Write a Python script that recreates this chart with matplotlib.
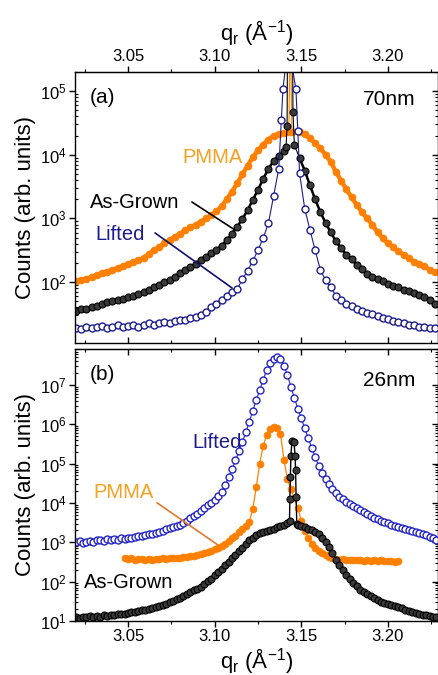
import numpy as np
import matplotlib
matplotlib.use("Agg")
import matplotlib.pyplot as plt
from matplotlib.ticker import MultipleLocator, FixedLocator, LogLocator, NullFormatter, FormatStrFormatter

plt.rcParams['font.family'] = ['Liberation Sans', 'DejaVu Sans']
plt.rcParams['mathtext.fontset'] = 'custom'
plt.rcParams['mathtext.rm'] = 'Liberation Sans'
plt.rcParams['mathtext.it'] = 'Liberation Sans:italic'
plt.rcParams['mathtext.default'] = 'regular'

# ---- data, values are log10(counts) ----
# panel (a), 70nm, tails sampled every 0.003 1/A
A_STEP = 0.003

pmma_a_left = [2.01, 2.03, 2.05, 2.08, 2.11, 2.14, 2.16, 2.19, 2.22, 2.25,
               2.28, 2.31, 2.34, 2.38, 2.44, 2.50, 2.55, 2.61, 2.66, 2.71,
               2.76, 2.81, 2.86, 2.90, 2.95, 3.00, 3.05, 3.11, 3.19, 3.30,
               3.42, 3.55, 3.69, 3.83, 3.96, 4.07, 4.16, 4.24, 4.30, 4.33,
               4.35]
pmma_a_peak_q = [3.1428, 3.1437, 3.1446]
pmma_a_peak = [4.36, 6.0, 4.36]
pmma_a_right = [4.36, 4.32, 4.26, 4.18, 4.10, 4.00, 3.89, 3.73, 3.59, 3.46,
                3.33, 3.21, 3.10, 3.00, 2.90, 2.78, 2.69, 2.61, 2.55, 2.48,
                2.43, 2.37, 2.32, 2.29, 2.25, 2.19, 2.15]

grown_a_left = [1.55, 1.58, 1.57, 1.61, 1.63, 1.66, 1.68, 1.70, 1.72, 1.73,
                1.76, 1.78, 1.81, 1.84, 1.88, 1.92, 1.96, 2.00, 2.03, 2.08,
                2.14, 2.19, 2.24, 2.29, 2.35, 2.40, 2.46, 2.51, 2.57, 2.66,
                2.76, 2.87, 2.99, 3.13, 3.29, 3.45, 3.62, 3.78, 3.90, 3.98,
                4.06]
grown_a_peak_q = [3.1412, 3.1418, 3.1420, 3.1435, 3.1450, 3.1452, 3.1460]
grown_a_peak = [4.12, 4.45, 5.6, 6.3, 5.6, 4.67, 4.15]
grown_a_right = [3.95, 3.75, 3.52, 3.30, 3.10, 2.93, 2.78, 2.64, 2.53, 2.43,
                 2.36, 2.27, 2.20, 2.12, 2.08, 2.05, 2.01, 1.97, 1.94, 1.92,
                 1.88, 1.86, 1.83, 1.80, 1.76, 1.72, 1.66]

lifted_a_left = [1.28, 1.26, 1.30, 1.27, 1.29, 1.31, 1.28, 1.30, 1.32, 1.29,
                 1.31, 1.33, 1.30, 1.33, 1.35, 1.33, 1.36, 1.37, 1.36, 1.39,
                 1.40, 1.41, 1.43, 1.45, 1.48, 1.53, 1.60, 1.66, 1.72, 1.78,
                 1.84, 1.89, 2.04, 2.18, 2.33, 2.50, 2.69, 2.92, 3.35, 3.78]
lifted_a_peak_q = [3.1385, 3.1394, 3.1425, 3.1469, 3.1480]
lifted_a_peak = [4.55, 5.03, 5.75, 5.03, 4.37]
lifted_a_right = [3.71, 3.15, 2.82, 2.50, 2.19, 2.03, 1.92, 1.78, 1.72, 1.66,
                  1.62, 1.58, 1.55, 1.52, 1.49, 1.46, 1.44, 1.42, 1.39, 1.37,
                  1.35, 1.33, 1.32, 1.30, 1.29, 1.28, 1.27]

# panel (b), 26nm, sampled every 0.002 1/A
B_STEP = 0.002

lifted_b = [3.01, 3.03, 2.99, 3.02, 3.04, 3.01, 3.05, 3.07, 3.04, 3.08,
            3.06, 3.09, 3.07, 3.10, 3.08, 3.12, 3.11, 3.14, 3.15, 3.16,
            3.18, 3.20, 3.21, 3.24, 3.27, 3.30, 3.33, 3.36, 3.39, 3.42,
            3.45, 3.50, 3.55, 3.61, 3.67, 3.73, 3.79, 3.86, 3.94, 4.01,
            4.08, 4.17, 4.29, 4.45, 4.65, 4.86, 5.08, 5.31, 5.55, 5.80,
            6.07, 6.34, 6.62, 6.87, 7.13, 7.38, 7.55, 7.67, 7.71, 7.66,
            7.49, 7.25, 6.95, 6.67, 6.40, 6.15, 5.90, 5.65, 5.40, 5.17,
            4.95, 4.77, 4.61, 4.47, 4.35, 4.25, 4.15, 4.09, 4.03, 3.97,
            3.92, 3.86, 3.81, 3.76, 3.72, 3.67, 3.62, 3.58, 3.55, 3.52,
            3.48, 3.44, 3.41, 3.39, 3.36, 3.33, 3.31, 3.28, 3.26, 3.24,
            3.22, 3.18, 3.14, 3.10, 3.07]

pmma_b = [2.60, 2.58, 2.59, 2.56, 2.58, 2.57, 2.55, 2.57, 2.56, 2.58,
          2.57, 2.59, 2.58, 2.60, 2.59, 2.61, 2.61, 2.62, 2.63, 2.64,
          2.66, 2.68, 2.70, 2.72, 2.75, 2.78, 2.82, 2.86, 2.91, 2.96,
          3.03, 3.10, 3.17, 3.25, 3.33, 3.42, 3.52, 3.85, 4.40, 5.00,
          5.45, 5.73, 5.88, 5.93, 5.91, 5.75, 5.10, 4.60, 4.35, 4.12,
          3.86, 3.55, 3.28, 3.12, 2.96, 2.86, 2.78, 2.72, 2.67, 2.63,
          2.61, 2.58, 2.56, 2.57, 2.55, 2.56, 2.55, 2.54, 2.56, 2.53,
          2.55, 2.53, 2.54, 2.52, 2.54, 2.53, 2.52, 2.53, 2.51, 2.52]

grown_b_left = [1.10, 1.08, 1.11, 1.09, 1.12, 1.10, 1.13, 1.11, 1.14, 1.13,
                1.15, 1.14, 1.17, 1.18, 1.19, 1.21, 1.22, 1.24, 1.26, 1.28,
                1.29, 1.31, 1.33, 1.35, 1.37, 1.40, 1.44, 1.48, 1.52, 1.56,
                1.59, 1.64, 1.68, 1.73, 1.78, 1.82, 1.87, 1.94, 2.01, 2.08,
                2.16, 2.24, 2.33, 2.42, 2.51, 2.60, 2.69, 2.77, 2.85, 2.96,
                3.05, 3.12, 3.18, 3.23, 3.26, 3.29, 3.32, 3.35, 3.38, 3.41,
                3.45, 3.50]
grown_b_peak_q = [3.1432, 3.1434, 3.1437, 3.1440, 3.1446,
                  3.1458, 3.1464, 3.1467, 3.1470, 3.1474]
grown_b_peak = [3.55, 4.10, 4.65, 5.20, 5.57, 5.55, 5.20, 4.85, 4.15, 3.47]
grown_b_right = [3.44, 3.41, 3.38, 3.35, 3.32, 3.27, 3.20, 3.10, 3.00, 2.88,
                 2.74, 2.56, 2.42, 2.30, 2.18, 2.06, 1.96, 1.88, 1.80, 1.74,
                 1.68, 1.63, 1.58, 1.53, 1.49, 1.46, 1.44, 1.41, 1.38, 1.35,
                 1.33, 1.29, 1.26, 1.23, 1.21, 1.18, 1.16, 1.14, 1.12, 1.11,
                 1.10]

q_ticks = [3.05, 3.10, 3.15, 3.20]

ORANGE = '#ff8000'
ORANGE_TXT = '#f7a021'
NAVY = '#1c1c8e'
BLUE_B = '#2424c4'
GREY = '#3a3a3a'


def sampled(start, step, vals):
    return start + step * np.arange(len(vals))


def join(parts):
    q = np.concatenate([p[0] for p in parts])
    v = np.concatenate([p[1] for p in parts])
    return q, 10 ** v


fig = plt.figure(figsize=(4.39, 6.75), dpi=100)
ax_a = fig.add_axes([75 / 439, 1 - 343 / 675, 363 / 439, 271 / 675])
ax_b = fig.add_axes([75 / 439, 1 - 621 / 675, 363 / 439, 272 / 675])

# ---- panel (a) ----
# PMMA: broad thick band on the tails, thin line through the substrate spike
for start, vals in [(3.020, pmma_a_left), (3.149, pmma_a_right)]:
    ax_a.plot(sampled(start, A_STEP, vals), 10 ** np.array(vals), '-',
              color=ORANGE, lw=3.2, solid_capstyle='round')
q, v = join([(sampled(3.020, A_STEP, pmma_a_left), pmma_a_left),
             (pmma_a_peak_q, pmma_a_peak),
             (sampled(3.149, A_STEP, pmma_a_right), pmma_a_right)])
ax_a.plot(q, v, '-', color=ORANGE, lw=0.8)
ax_a.plot(q, v, 'o', color=ORANGE, ms=5, mec=ORANGE, mfc=ORANGE, mew=0.5)

for start, vals in [(3.020, grown_a_left), (3.149, grown_a_right)]:
    ax_a.plot(sampled(start, A_STEP, vals), 10 ** np.array(vals), '-',
              color='black', lw=1.8)
q, v = join([(sampled(3.020, A_STEP, grown_a_left), grown_a_left),
             (grown_a_peak_q, grown_a_peak),
             (sampled(3.149, A_STEP, grown_a_right), grown_a_right)])
ax_a.plot(q, v, '-o', color='black', lw=0.8, ms=5, mec='black', mfc=GREY, mew=0.8)

q, v = join([(sampled(3.020, A_STEP, lifted_a_left), lifted_a_left),
             (lifted_a_peak_q, lifted_a_peak),
             (sampled(3.149, A_STEP, lifted_a_right), lifted_a_right)])
ax_a.plot(q, v, '-o', color=NAVY, lw=0.8, ms=5, mec=NAVY, mfc='white', mew=1.0)

# ---- panel (b) ----
q = sampled(3.020, B_STEP, lifted_b)
ax_b.plot(q, 10 ** np.array(lifted_b), '-o', color=BLUE_B, lw=0.8, ms=5,
          mec=BLUE_B, mfc='white', mew=1.0)

q = sampled(3.048, B_STEP, pmma_b)
ax_b.plot(q, 10 ** np.array(pmma_b), '-o', color=ORANGE, lw=0.9, ms=5,
          mec=ORANGE, mfc=ORANGE, mew=0.5)

q, v = join([(sampled(3.020, B_STEP, grown_b_left), grown_b_left),
             (grown_b_peak_q, grown_b_peak),
             (sampled(3.148, B_STEP, grown_b_right), grown_b_right)])
ax_b.plot(q, v, '-o', color='black', lw=1.0, ms=5, mec='black', mfc=GREY, mew=0.8)

# ---- axes styling ----
qlabel = r'q$_\mathregular{r}$ (Å$^{\mathregular{-1}}$)'
for ax, ylim in [(ax_a, (11, 2e5)), (ax_b, (10, 8.2e7))]:
    ax.set_xlim(3.0194, 3.2289)
    ax.set_yscale('log')
    ax.set_ylim(*ylim)
    ax.xaxis.set_major_locator(FixedLocator(q_ticks))
    ax.xaxis.set_minor_locator(MultipleLocator(0.025))
    ax.xaxis.set_major_formatter(FormatStrFormatter('%.2f'))
    ax.yaxis.set_major_locator(LogLocator(base=10, numticks=20))
    ax.yaxis.set_minor_locator(LogLocator(base=10, subs=np.arange(2, 10), numticks=100))
    ax.tick_params(axis='y', which='major', direction='out', length=4, width=1,
                   labelsize=12, pad=2)
    ax.tick_params(axis='y', which='minor', direction='in', length=2.5, width=0.8)
    for s in ax.spines.values():
        s.set_linewidth(1.0)
    ax.set_ylabel('Counts (arb. units)', fontsize=16, labelpad=3)

    sy = ax.secondary_yaxis('right')
    sy.yaxis.set_major_locator(LogLocator(base=10, numticks=20))
    sy.yaxis.set_minor_locator(LogLocator(base=10, subs=np.arange(2, 10), numticks=100))
    sy.yaxis.set_major_formatter(NullFormatter())
    sy.yaxis.set_minor_formatter(NullFormatter())
    sy.tick_params(which='major', direction='in', length=4, width=1)
    sy.tick_params(which='minor', direction='in', length=2.5, width=0.8)

    sx = ax.secondary_xaxis('top')
    sx.xaxis.set_major_locator(FixedLocator(q_ticks))
    sx.xaxis.set_minor_locator(MultipleLocator(0.025))
    sx.xaxis.set_major_formatter(FormatStrFormatter('%.2f'))
    ax.sx = sx

# (a): labels on top, ticks out; bottom ticks in
ax_a.tick_params(axis='x', which='major', direction='in', length=4, width=1, labelbottom=False)
ax_a.tick_params(axis='x', which='minor', direction='in', length=2.5, width=0.8)
ax_a.sx.tick_params(which='major', direction='out', length=4, width=1, labelsize=12, pad=2)
ax_a.sx.tick_params(which='minor', direction='out', length=2.5, width=0.8)
ax_a.sx.set_xlabel(qlabel, fontsize=16, labelpad=6)

# (b): labels at bottom, ticks out; top ticks in
ax_b.tick_params(axis='x', which='major', direction='out', length=4, width=1, labelsize=12, pad=2)
ax_b.tick_params(axis='x', which='minor', direction='out', length=2.5, width=0.8)
ax_b.sx.tick_params(which='major', direction='in', length=4, width=1, labeltop=False)
ax_b.sx.tick_params(which='minor', direction='in', length=2.5, width=0.8)
ax_b.set_xlabel(qlabel, fontsize=16, labelpad=1)

# ---- annotations (a) ----
ax_a.text(0.04, 0.905, '(a)', transform=ax_a.transAxes, fontsize=15, va='center')
ax_a.text(0.937, 0.897, '70nm', transform=ax_a.transAxes, fontsize=15, va='center', ha='right')
ax_a.text(0.295, 0.686, 'PMMA', transform=ax_a.transAxes, fontsize=14.5, va='center',
          color=ORANGE_TXT)
ax_a.text(0.042, 0.517, 'As-Grown', transform=ax_a.transAxes, fontsize=14.5, va='center')
ax_a.text(0.055, 0.399, 'Lifted', transform=ax_a.transAxes, fontsize=14.5, va='center',
          color=NAVY)
ax_a.annotate('', xy=(3.1117, 10 ** 2.818), xytext=(3.0869, 10 ** 3.257),
              arrowprops=dict(arrowstyle='-', color='black', lw=1.2, shrinkA=0, shrinkB=0))
ax_a.annotate('', xy=(3.1100, 10 ** 1.907), xytext=(3.0656, 10 ** 2.771),
              arrowprops=dict(arrowstyle='-', color='#10106e', lw=1.2, shrinkA=0, shrinkB=0))

# ---- annotations (b) ----
ax_b.text(0.04, 0.908, '(b)', transform=ax_b.transAxes, fontsize=15, va='center')
ax_b.text(0.937, 0.886, '26nm', transform=ax_b.transAxes, fontsize=15, va='center', ha='right')
ax_b.text(0.322, 0.658, 'Lifted', transform=ax_b.transAxes, fontsize=14.5, va='center',
          color=NAVY)
ax_b.text(0.05, 0.471, 'PMMA', transform=ax_b.transAxes, fontsize=14.5, va='center',
          color=ORANGE_TXT)
ax_b.text(0.025, 0.143, 'As-Grown', transform=ax_b.transAxes, fontsize=14.5, va='center')
ax_b.annotate('', xy=(3.1025, 10 ** 2.914), xytext=(3.0667, 10 ** 4.005),
              arrowprops=dict(arrowstyle='-', color='#e0782e', lw=1.2, shrinkA=0, shrinkB=0))

fig.savefig('out.png', dpi=100)
